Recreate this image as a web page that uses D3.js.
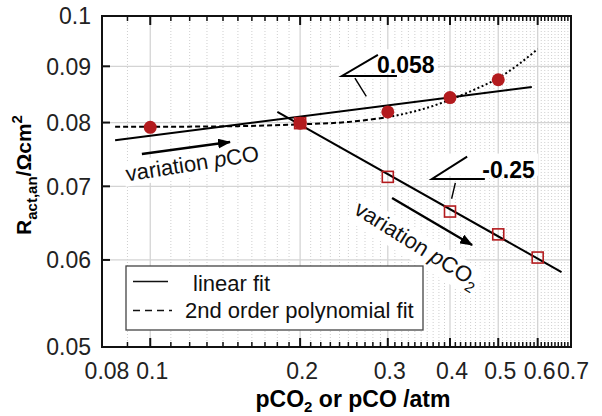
<!DOCTYPE html>
<html>
<head>
<meta charset="utf-8">
<script src="https://cdn.jsdelivr.net/npm/d3@7"></script>
<style>
  body { margin: 0; background: #fff; }
  svg { font-family: "Liberation Sans", Arial, sans-serif; }
</style>
</head>
<body>
<svg id="chart" width="602" height="416"></svg>
<script>
// measured points
var pCOx = [0.1, 0.2, 0.3, 0.4, 0.5];
var pCOr = [0.0792, 0.0799, 0.0818, 0.0843, 0.0875];
var pCO2x = [0.2, 0.3, 0.4, 0.5, 0.6];
var pCO2r = [0.0799, 0.0714, 0.0664, 0.0633, 0.0603];

// linear fits (end points)
var fitCOx = [0.085, 0.584];
var fitCOr = [0.0771, 0.0862];
var fitCO2x = [0.18, 0.67];
var fitCO2r = [0.0818, 0.0585];

// 2nd order polynomial fit, dashed part then dotted part
var polyX = [0.085, 0.1, 0.15, 0.2, 0.25, 0.3];
var polyR = [0.0793, 0.0793, 0.0794, 0.0797, 0.0801, 0.0809];
var polyX2 = [0.3, 0.35, 0.4, 0.45, 0.5, 0.55, 0.6];
var polyR2 = [0.0809, 0.0822, 0.0839, 0.0858, 0.0878, 0.0904, 0.0933];

// ticks
var xTicks = [0.08, 0.1, 0.2, 0.3, 0.4, 0.5, 0.6, 0.7];
var xTickLabels = ["0.08", "0.1", "0.2", "0.3", "0.4", "0.5", "0.6", "0.7"];
var yTicks = [0.05, 0.06, 0.07, 0.08, 0.09, 0.1];
var yTickLabels = ["0.05", "0.06", "0.07", "0.08", "0.09", "0.1"];

var svg = d3.select("#chart");
var x = d3.scaleLog().domain([0.08, 0.7]).range([102, 571]);
var y = d3.scaleLog().domain([0.05, 0.1]).range([347, 16]);
var red = "#b31b1e";

var defs = svg.append("defs");
defs.append("marker").attr("id", "arr").attr("viewBox", "0 0 13 10")
    .attr("refX", 12).attr("refY", 5).attr("markerWidth", 13).attr("markerHeight", 10)
    .attr("markerUnits", "userSpaceOnUse").attr("orient", "auto")
  .append("path").attr("d", "M0,0 L13,5 L0,10 Z").attr("fill", "#000");

// grid
var minorX = d3.range(9, 70).map(function(d) { return d / 100; })
    .filter(function(d) { return xTicks.indexOf(d) < 0; });
var grid = svg.append("g");
grid.selectAll(".mx").data(minorX).enter().append("line")
    .attr("x1", function(d) { return x(d); }).attr("x2", function(d) { return x(d); })
    .attr("y1", y(0.1)).attr("y2", y(0.05))
    .attr("stroke", "#cfcfcf").attr("stroke-width", 1).attr("stroke-dasharray", "1,2");
grid.selectAll(".Mx").data([0.1, 0.2, 0.3, 0.4, 0.5, 0.6]).enter().append("line")
    .attr("x1", function(d) { return x(d); }).attr("x2", function(d) { return x(d); })
    .attr("y1", y(0.1)).attr("y2", y(0.05))
    .attr("stroke", "#d4d4d4").attr("stroke-width", 1.3);
grid.selectAll(".My").data([0.06, 0.07, 0.08, 0.09]).enter().append("line")
    .attr("x1", x(0.08)).attr("x2", x(0.7))
    .attr("y1", function(d) { return y(d); }).attr("y2", function(d) { return y(d); })
    .attr("stroke", "#d4d4d4").attr("stroke-width", 1.3);

// white patches behind annotations
var patches = svg.append("g");
var lines = svg.append("g");
var notes = svg.append("g");

var line = d3.line().x(function(d) { return x(d[0]); }).y(function(d) { return y(d[1]); });

lines.append("path").attr("d", line(d3.zip(fitCOx, fitCOr)))
    .attr("stroke", "#000").attr("stroke-width", 2).attr("fill", "none");
lines.append("path").attr("d", line(d3.zip(fitCO2x, fitCO2r)))
    .attr("stroke", "#000").attr("stroke-width", 2).attr("fill", "none");
var curve = d3.line().curve(d3.curveMonotoneX)
    .x(function(d) { return x(d[0]); }).y(function(d) { return y(d[1]); });
lines.append("path").attr("d", curve(d3.zip(polyX, polyR)))
    .attr("stroke", "#000").attr("stroke-width", 2).attr("fill", "none").attr("stroke-dasharray", "5,3");
lines.append("path").attr("d", curve(d3.zip(polyX2, polyR2)))
    .attr("stroke", "#000").attr("stroke-width", 2).attr("fill", "none").attr("stroke-dasharray", "2,2.5");

// markers
lines.selectAll(".sq").data(d3.zip(pCO2x, pCO2r)).enter().append("rect")
    .attr("x", function(d) { return x(d[0]) - 5.5; }).attr("y", function(d) { return y(d[1]) - 5.5; })
    .attr("width", 11).attr("height", 11)
    .attr("fill", "none").attr("stroke", red).attr("stroke-width", 1.6);
lines.selectAll(".ci").data(d3.zip(pCOx, pCOr)).enter().append("circle")
    .attr("cx", function(d) { return x(d[0]); }).attr("cy", function(d) { return y(d[1]); })
    .attr("r", 6.5).attr("fill", red);

// slope triangles: corner, diagonal end, horizontal end, leader start/end, label
var slopes = [
  { c: [0.2427, 0.0882], d: [0.2866, 0.0922], h: [0.313, 0.0882], l1: [0.2577, 0.0878], l2: [0.2716, 0.0845], t: [0.2855, 0.0887], label: "0.058" },
  { c: [0.368, 0.0711], d: [0.433, 0.0745], h: [0.470, 0.0711], l1: [0.410, 0.0705], l2: [0.403, 0.0682], t: [0.4645, 0.0712], label: "-0.25" }
];
slopes.forEach(function(s) {
  var g = notes.append("g");
  g.append("path")
      .attr("d", "M" + x(s.d[0]) + "," + y(s.d[1]) + "L" + x(s.c[0]) + "," + y(s.c[1]) + "L" + x(s.h[0]) + "," + y(s.h[1]))
      .attr("stroke", "#000").attr("stroke-width", 2).attr("fill", "none");
  g.append("line").attr("x1", x(s.l1[0])).attr("y1", y(s.l1[1])).attr("x2", x(s.l2[0])).attr("y2", y(s.l2[1]))
      .attr("stroke", "#000").attr("stroke-width", 1.4);
  g.append("text").attr("x", x(s.t[0])).attr("y", y(s.t[1]))
      .attr("font-size", 23).attr("font-weight", "bold").text(s.label);
  var b = g.node().getBBox();
  patches.append("rect").attr("x", b.x - 3).attr("y", b.y - 3)
      .attr("width", b.width + 6).attr("height", b.height - 20).attr("fill", "#fff");
});

// variation labels with arrows
var arrows = [
  { from: [0.0962, 0.0749], to: [0.1446, 0.0768] },
  { from: [0.306, 0.0683], to: [0.443, 0.0619] }
];
arrows.forEach(function(a) {
  notes.append("line").attr("x1", x(a.from[0])).attr("y1", y(a.from[1]))
      .attr("x2", x(a.to[0])).attr("y2", y(a.to[1]))
      .attr("stroke", "#000").attr("stroke-width", 2.4).attr("marker-end", "url(#arr)");
});

var vars = [
  { at: [0.0898, 0.0707], angle: -9, sub: "" },
  { at: [0.255, 0.0662], angle: 32, sub: "2" }
];
vars.forEach(function(v) {
  var g = notes.append("g")
      .attr("transform", "translate(" + x(v.at[0]) + "," + y(v.at[1]) + ") rotate(" + v.angle + ")");
  var t = g.append("text").attr("font-size", 22).attr("fill", "#111");
  t.append("tspan").text("variation ");
  t.append("tspan").attr("font-style", "italic").text("p");
  t.append("tspan").text("CO");
  if (v.sub) t.append("tspan").attr("font-size", 15).attr("dy", 6).text(v.sub);
  var b = t.node().getBBox();
  var pg = patches.append("g").attr("transform", g.attr("transform"));
  pg.append("rect").attr("x", b.x - 2).attr("y", b.y).attr("width", b.width + 4).attr("height", b.height)
      .attr("fill", "#fff");
});

// frame and ticks
var axes = svg.append("g");
axes.append("rect").attr("x", x(0.08)).attr("y", y(0.1))
    .attr("width", x(0.7) - x(0.08)).attr("height", y(0.05) - y(0.1))
    .attr("fill", "none").attr("stroke", "#111").attr("stroke-width", 2);
var majorX = [0.1, 0.2, 0.3, 0.4, 0.5, 0.6];
[y(0.05), y(0.1)].forEach(function(y0, i) {
  var dir = i == 0 ? -1 : 1;
  axes.selectAll(null).data(minorX).enter().append("line")
      .attr("x1", function(d) { return x(d); }).attr("x2", function(d) { return x(d); })
      .attr("y1", y0).attr("y2", y0 + dir * 5)
      .attr("stroke", "#111").attr("stroke-width", 1.5);
  axes.selectAll(null).data(majorX).enter().append("line")
      .attr("x1", function(d) { return x(d); }).attr("x2", function(d) { return x(d); })
      .attr("y1", y0).attr("y2", y0 + dir * 9)
      .attr("stroke", "#111").attr("stroke-width", 2);
});
axes.selectAll(null).data([0.06, 0.07, 0.08, 0.09]).enter().append("line")
    .attr("x1", x(0.08)).attr("x2", x(0.08) + 8)
    .attr("y1", function(d) { return y(d); }).attr("y2", function(d) { return y(d); })
    .attr("stroke", "#111").attr("stroke-width", 2);

// tick labels
axes.selectAll(null).data(xTicks).enter().append("text")
    .attr("x", function(d, i) { return x(d) + (i == 0 ? 5 : 2); }).attr("y", 379)
    .attr("text-anchor", "middle").attr("font-size", 23).attr("fill", "#222")
    .text(function(d, i) { return xTickLabels[i]; });
axes.selectAll(null).data(yTicks).enter().append("text")
    .attr("x", 91).attr("y", function(d) { return y(d); }).attr("dy", "0.36em")
    .attr("text-anchor", "end").attr("font-size", 23).attr("fill", "#222")
    .text(function(d, i) { return yTickLabels[i]; });

// axis titles
var xt = svg.append("text").attr("x", 353).attr("y", 407).attr("text-anchor", "middle")
    .attr("font-size", 23).attr("font-weight", "bold");
xt.append("tspan").text("pCO");
xt.append("tspan").attr("font-size", 15).attr("dy", 5).text("2");
xt.append("tspan").attr("dy", -5).text(" or pCO /atm");

var yt = svg.append("text").attr("transform", "translate(31,175) rotate(-90)")
    .attr("text-anchor", "middle").attr("font-size", 21).attr("font-weight", "bold");
yt.append("tspan").text("R");
yt.append("tspan").attr("font-size", 15).attr("dy", 6).text("act,an");
yt.append("tspan").attr("dy", -6).text("/Ωcm");
yt.append("tspan").attr("font-size", 15).attr("dy", -9).text("2");

// legend
var lg = svg.append("g");
lg.append("rect").attr("x", 126).attr("y", 266).attr("width", 297).attr("height", 64)
    .attr("fill", "#fff").attr("stroke", "#444").attr("stroke-width", 1.3);
lg.append("line").attr("x1", 133).attr("x2", 168).attr("y1", 281.5).attr("y2", 281.5)
    .attr("stroke", "#111").attr("stroke-width", 1.3);
lg.append("line").attr("x1", 133).attr("x2", 172).attr("y1", 310.5).attr("y2", 310.5)
    .attr("stroke", "#111").attr("stroke-width", 1.3).attr("stroke-dasharray", "7,5");
lg.append("text").attr("x", 193).attr("y", 291).attr("font-size", 22).attr("fill", "#111").text("linear fit");
lg.append("text").attr("x", 185).attr("y", 318).attr("font-size", 22).attr("fill", "#111").text("2nd order polynomial fit");
</script>
</body>
</html>
